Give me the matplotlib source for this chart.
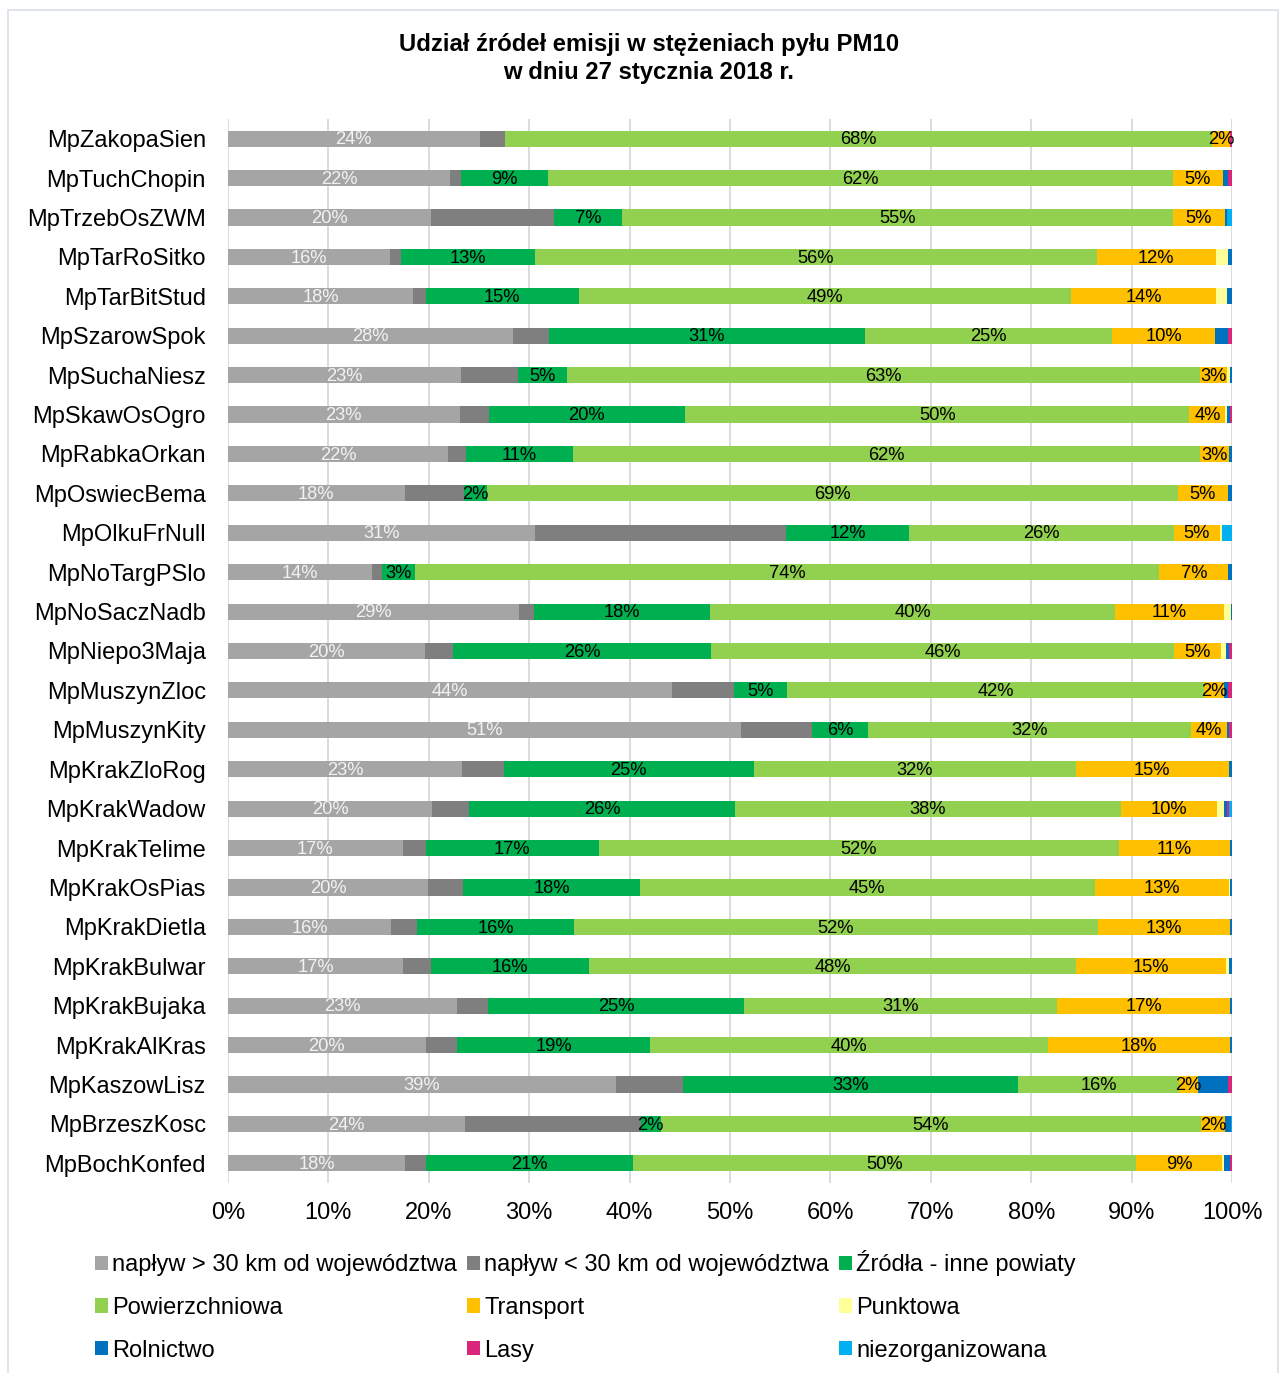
import matplotlib
matplotlib.use("Agg")
import matplotlib.pyplot as plt
from matplotlib.patches import Patch, Rectangle
import numpy as np

plt.rcParams['font.family'] = ['Liberation Sans', 'DejaVu Sans']

stations = ["MpZakopaSien", "MpTuchChopin", "MpTrzebOsZWM", "MpTarRoSitko", "MpTarBitStud",
            "MpSzarowSpok", "MpSuchaNiesz", "MpSkawOsOgro", "MpRabkaOrkan", "MpOswiecBema",
            "MpOlkuFrNull", "MpNoTargPSlo", "MpNoSaczNadb", "MpNiepo3Maja", "MpMuszynZloc",
            "MpMuszynKity", "MpKrakZloRog", "MpKrakWadow", "MpKrakTelime", "MpKrakOsPias",
            "MpKrakDietla", "MpKrakBulwar", "MpKrakBujaka", "MpKrakAlKras", "MpKaszowLisz",
            "MpBrzeszKosc", "MpBochKonfed"]

inflow_far = [24.1, 22.1, 20.2, 16.2, 18.4, 28.3, 23.2, 23.1, 21.9, 17.6, 30.6, 14.3, 29.0, 19.6,
              44.3, 51.1, 23.4, 20.3, 17.4, 20.0, 16.3, 17.4, 22.8, 19.7, 38.6, 23.6, 17.7]
inflow_near = [2.4, 1.1, 12.3, 1.1, 1.3, 3.6, 5.7, 2.9, 1.8, 5.9, 25.1, 1.0, 1.5, 2.8,
               6.2, 7.1, 4.1, 3.7, 2.3, 3.5, 2.6, 2.8, 3.1, 3.1, 6.7, 17.5, 2.1]
other_districts = [0.0, 8.7, 6.7, 13.3, 15.2, 31.4, 4.8, 19.6, 10.7, 2.3, 12.3, 3.3, 17.6, 25.8,
                   5.3, 5.6, 25.0, 26.4, 17.3, 17.6, 15.6, 15.7, 25.4, 19.3, 33.4, 2.0, 20.6]
surface = [67.7, 62.2, 54.9, 56.1, 49.0, 24.6, 63.1, 50.3, 62.4, 68.8, 26.4, 74.1, 40.3, 46.1,
           41.6, 32.2, 32.1, 38.4, 51.8, 45.4, 52.3, 48.4, 31.2, 39.6, 16.0, 53.8, 50.2]
transport = [1.8, 5.0, 5.2, 11.9, 14.4, 10.2, 2.7, 3.6, 2.9, 5.0, 4.6, 6.9, 10.9, 4.7,
             2.0, 3.6, 15.3, 9.6, 11.1, 13.4, 13.2, 14.9, 17.2, 18.2, 1.9, 2.4, 8.6]
point = [0.0, 0.0, 0.0, 1.2, 1.1, 0.0, 0.3, 0.2, 0.0, 0.0, 0.2, 0.0, 0.7, 0.5,
         0.0, 0.0, 0.0, 0.7, 0.0, 0.1, 0.0, 0.3, 0.0, 0.0, 0.0, 0.0, 0.2]
agriculture = [0.0, 0.5, 0.25, 0.4, 0.5, 1.3, 0.15, 0.25, 0.3, 0.4, 0.0, 0.35, 0.1, 0.3,
               0.4, 0.2, 0.3, 0.3, 0.2, 0.2, 0.15, 0.3, 0.2, 0.15, 3.0, 0.6, 0.55]
forests = [0.15, 0.4, 0.0, 0.0, 0.0, 0.4, 0.0, 0.2, 0.0, 0.0, 0.0, 0.0, 0.0, 0.3,
           0.4, 0.3, 0.0, 0.15, 0.0, 0.0, 0.0, 0.0, 0.0, 0.0, 0.4, 0.0, 0.2]
fugitive = [0.0, 0.0, 0.45, 0.0, 0.0, 0.0, 0.0, 0.0, 0.0, 0.0, 1.0, 0.0, 0.0, 0.0,
            0.0, 0.0, 0.0, 0.3, 0.0, 0.0, 0.0, 0.0, 0.0, 0.0, 0.0, 0.1, 0.0]

series_names = ["napływ > 30 km od województwa", "napływ < 30 km od województwa",
                "Źródła - inne powiaty", "Powierzchniowa", "Transport", "Punktowa",
                "Rolnictwo", "Lasy", "niezorganizowana"]
series_values = [inflow_far, inflow_near, other_districts, surface, transport, point,
                 agriculture, forests, fugitive]
series_colors = ["#A5A5A5", "#7F7F7F", "#00B050", "#92D050", "#FFC000", "#FFFF99",
                 "#0070C0", "#D9267A", "#00B0F0"]
# which series carry value labels, and in which colour
label_colors = {0: "#F2F2F2", 2: "black", 3: "black", 4: "black"}

fig = plt.figure(figsize=(12.8, 13.73), dpi=100)
ax = fig.add_axes([228 / 1280, 1 - 1183 / 1373, 1004 / 1280, 1064 / 1373])

data = np.array(series_values, dtype=float)
totals = data.sum(axis=0)
shares = data / totals * 100.0
y = np.arange(len(stations))
left = np.zeros(len(stations))

for k, (name, color) in enumerate(zip(series_names, series_colors)):
    ax.barh(y, shares[k], left=left, height=0.41, color=color, edgecolor="none",
            label=name, zorder=3)
    if k in label_colors:
        for i in range(len(stations)):
            v = data[k, i]
            if v >= 1.0:
                ax.text(left[i] + shares[k, i] / 2, y[i] + 0.03, f"{v:.0f}%",
                        ha="center", va="center", fontsize=13.2,
                        color=label_colors[k], zorder=4)
    left += shares[k]

ax.set_ylim(len(stations) - 0.5, -0.5)
ax.set_xlim(0, 100)
ax.set_yticks(y)
ax.set_yticklabels(stations, fontsize=17)
ax.set_xticks(np.arange(0, 101, 10))
ax.set_xticklabels([f"{t}%" for t in range(0, 101, 10)], fontsize=17)
ax.tick_params(axis="both", length=0)
ax.tick_params(axis="y", pad=16)
ax.tick_params(axis="x", pad=13.5)
ax.grid(axis="x", color="#D9D9D9", linewidth=1.3, zorder=0)
ax.set_axisbelow(True)
for s in ax.spines.values():
    s.set_visible(False)

fig.text(649 / 1280, 1 - 44 / 1373, "Udział źródeł emisji w stężeniach pyłu PM10",
         ha="center", va="center", fontsize=17.2, fontweight="bold")
fig.text(649 / 1280, 1 - 72 / 1373, "w dniu 27 stycznia 2018 r.",
         ha="center", va="center", fontsize=17.2, fontweight="bold")

# legend laid out row by row in three columns
handles = [Patch(facecolor=c, edgecolor="none") for c in series_colors]
order = [0, 3, 6, 1, 4, 7, 2, 5, 8]
fig.legend([handles[i] for i in order], [series_names[i] for i in order],
           ncol=3, loc="upper left", bbox_to_anchor=(95 / 1280, 1 - 1250 / 1373),
           frameon=False, fontsize=17, handlelength=0.55, handleheight=0.55,
           handletextpad=0.18, columnspacing=0.42, labelspacing=0.88,
           borderpad=0, borderaxespad=0)

fig.patches.append(Rectangle((8 / 1280, -0.01), 1270 / 1280, 1 - 10 / 1373 + 0.01,
                             transform=fig.transFigure, fill=False,
                             edgecolor="#D9DFE8", linewidth=1.2))

fig.savefig("out.png", dpi=100)
